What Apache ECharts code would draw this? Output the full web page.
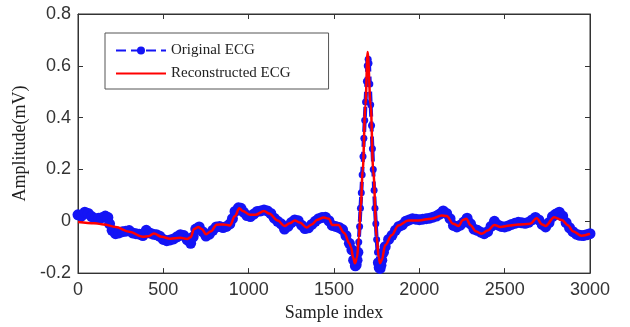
<!DOCTYPE html>
<html>
<head>
<meta charset="utf-8">
<script src="https://cdn.jsdelivr.net/npm/echarts@6/dist/echarts.min.js"></script>
<style>
html,body{margin:0;padding:0;background:#fff;}
#c{width:630px;height:327px;}
</style>
</head>
<body>
<div id="c"></div>
<script>
// Original ECG (sample index, amplitude in mV)
var origSamples = [0,20,40,60,80,100,120,140,160,175,185,200,220,240,260,280,300,320,340,360,380,400,420,440,460,480,500,520,540,560,580,600,620,640,660,675,690,710,730,750,770,790,810,830,850,870,890,905,920,940,955,970,990,1010,1030,1050,1070,1090,1110,1130,1150,1170,1190,1210,1230,1250,1270,1290,1310,1330,1350,1370,1390,1410,1430,1450,1470,1490,1510,1530,1550,1570,1590,1605,1615,1625,1630,1635,1640,1645,1650,1655,1660,1665,1670,1675,1680,1685,1690,1695,1700,1705,1710,1715,1720,1725,1730,1735,1740,1745,1750,1755,1760,1765,1770,1775,1780,1790,1800,1820,1840,1860,1880,1900,1920,1940,1960,1980,2000,2020,2040,2060,2080,2100,2120,2140,2160,2180,2200,2220,2240,2260,2280,2300,2320,2340,2360,2380,2400,2420,2440,2460,2480,2500,2520,2540,2560,2580,2600,2620,2640,2660,2680,2700,2720,2740,2760,2780,2800,2820,2840,2860,2880,2900,2920,2940,2960,2980,3000];
var origValues = [0.025,0.020,0.035,0.030,0.018,0.010,0.012,0.014,0.020,0.015,-0.010,-0.035,-0.048,-0.045,-0.040,-0.038,-0.036,-0.045,-0.048,-0.050,-0.055,-0.035,-0.045,-0.050,-0.052,-0.058,-0.070,-0.075,-0.072,-0.068,-0.060,-0.052,-0.055,-0.072,-0.085,-0.060,-0.030,-0.022,-0.040,-0.057,-0.050,-0.035,-0.022,-0.020,-0.024,-0.020,-0.010,0.010,0.038,0.052,0.050,0.035,0.022,0.018,0.028,0.038,0.040,0.044,0.040,0.030,0.012,0.000,-0.010,-0.030,-0.020,-0.005,0.005,0.002,-0.015,-0.028,-0.025,-0.012,0.000,0.010,0.015,0.016,0.002,-0.016,-0.020,-0.024,-0.032,-0.055,-0.085,-0.110,-0.150,-0.172,-0.168,-0.150,-0.120,-0.080,-0.020,0.050,0.110,0.180,0.250,0.320,0.390,0.460,0.540,0.600,0.625,0.610,0.530,0.450,0.370,0.280,0.200,0.120,0.050,-0.010,-0.070,-0.120,-0.160,-0.178,-0.182,-0.170,-0.150,-0.120,-0.098,-0.070,-0.054,-0.035,-0.020,-0.014,0.000,0.005,0.010,0.008,0.006,0.008,0.010,0.012,0.016,0.020,0.028,0.040,0.030,0.010,-0.016,-0.022,-0.015,-0.003,0.012,-0.010,-0.030,-0.035,-0.042,-0.048,-0.040,-0.020,0.000,-0.014,-0.020,-0.022,-0.018,-0.012,-0.008,-0.004,-0.006,-0.008,-0.004,0.005,0.015,0.005,-0.012,-0.022,-0.005,0.018,0.028,0.035,0.020,-0.005,-0.025,-0.040,-0.050,-0.054,-0.055,-0.052,-0.048];

// Reconstructed ECG
var reconSamples = [0,100,150,220,300,380,410,445,490,540,600,640,660,680,705,725,750,780,812,850,890,920,945,965,1008,1040,1090,1120,1170,1210,1240,1270,1300,1340,1370,1400,1440,1470,1490,1525,1560,1590,1600,1612,1623,1635,1646,1657,1668,1684,1697,1715,1730,1750,1762,1770,1780,1800,1838,1877,1935,1994,2072,2131,2160,2199,2230,2255,2275,2300,2330,2365,2400,2440,2475,2530,2580,2650,2687,2720,2740,2790,2835,2870,2900,2950,3000];
var reconValues = [-0.003,-0.008,-0.012,-0.022,-0.040,-0.060,-0.058,-0.047,-0.060,-0.067,-0.064,-0.068,-0.062,-0.030,-0.022,-0.030,-0.050,-0.038,-0.013,-0.012,-0.016,0.020,0.050,0.040,0.025,0.025,0.040,0.030,0.003,-0.018,-0.008,0.003,-0.005,-0.024,-0.012,0.005,0.015,0.010,-0.014,-0.014,-0.045,-0.085,-0.100,-0.140,-0.162,-0.140,-0.060,0.060,0.194,0.448,0.653,0.448,0.194,-0.060,-0.140,-0.162,-0.150,-0.092,-0.054,-0.016,0.003,0.003,0.010,0.022,0.020,-0.010,-0.018,0.005,0.010,-0.015,-0.038,-0.048,-0.036,-0.014,-0.022,-0.016,-0.012,-0.010,0.012,-0.012,-0.018,0.016,0.005,-0.015,-0.038,-0.056,-0.048];

var xTicks = [0,500,1000,1500,2000,2500,3000];
var yTicks = [-0.2,0,0.2,0.4,0.6,0.8];

function pairs(xs, ys){ return xs.map(function(x,i){ return [x, ys[i]]; }); }

var chart = echarts.init(document.getElementById('c'), null, {renderer:'canvas'});
var sans = 'Liberation Sans, Arial, sans-serif';
var serif = 'Liberation Serif, Times New Roman, serif';
var tickFmtY = function(v){ return String(+v.toFixed(1)); };
var tickFmtX = function(v){ return String(v); };
var blue = '#1414f5';

chart.setOption({
  animation: false,
  backgroundColor: '#ffffff',
  grid: {left: 78, right: 40, top: 14, bottom: 50, show: true, borderColor: '#333', borderWidth: 1, backgroundColor: 'transparent'},
  legend: {
    orient: 'vertical', left: 105, top: 33,
    padding: [10, 38, 8, 10], itemGap: 8,
    itemWidth: 50, itemHeight: 10,
    borderColor: '#555', borderWidth: 1, backgroundColor: '#fff',
    textStyle: {fontFamily: serif, fontSize: 15, color: '#222'},
    data: [
      {name: 'Original ECG'},
      {name: 'Reconstructed ECG', itemStyle: {opacity: 0}}
    ]
  },
  xAxis: [{
    type: 'value', min: xTicks[0], max: xTicks[xTicks.length-1], interval: 500,
    name: 'Sample index', nameLocation: 'middle', nameGap: 29,
    nameTextStyle: {fontFamily: serif, fontSize: 18, color: '#222'},
    axisLine: {show: true, onZero: false, lineStyle: {color: '#333', width: 1}},
    axisTick: {show: true, inside: true, length: 5, lineStyle: {color: '#333'}},
    axisLabel: {fontFamily: sans, fontSize: 18, color: '#333', margin: 8, formatter: tickFmtX},
    splitLine: {show: false}
  },{
    type: 'value', position: 'top', min: xTicks[0], max: xTicks[xTicks.length-1], interval: 500,
    axisLine: {show: true, onZero: false, lineStyle: {color: '#333'}},
    axisTick: {show: true, inside: true, length: 5, lineStyle: {color: '#333'}},
    axisLabel: {show: false}, splitLine: {show: false}
  }],
  yAxis: [{
    type: 'value', min: yTicks[0], max: yTicks[yTicks.length-1], interval: 0.2,
    name: 'Amplitude(mV)', nameLocation: 'middle', nameGap: 48, nameRotate: 90,
    nameTextStyle: {fontFamily: serif, fontSize: 18, color: '#222'},
    axisLine: {show: true, onZero: false, lineStyle: {color: '#333', width: 1}},
    axisTick: {show: true, inside: true, length: 5, lineStyle: {color: '#333'}},
    axisLabel: {fontFamily: sans, fontSize: 18, color: '#333', margin: 7, formatter: tickFmtY},
    splitLine: {show: false}
  },{
    type: 'value', position: 'right', min: yTicks[0], max: yTicks[yTicks.length-1], interval: 0.2,
    axisLine: {show: true, onZero: false, lineStyle: {color: '#333'}},
    axisTick: {show: true, inside: true, length: 5, lineStyle: {color: '#333'}},
    axisLabel: {show: false}, splitLine: {show: false}
  }],
  series: [{
    name: 'Original ECG', type: 'line', xAxisIndex: 0, yAxisIndex: 0,
    data: pairs(origSamples, origValues),
    showSymbol: true, symbol: 'circle',
    symbolSize: function(val){ return (val[0] > 1640 && val[0] < 1760) ? 7 : 11; },
    itemStyle: {color: blue},
    lineStyle: {color: blue, width: 4, type: [10, 5]},
    z: 2
  },{
    name: 'Reconstructed ECG', type: 'line', xAxisIndex: 0, yAxisIndex: 0,
    data: pairs(reconSamples, reconValues),
    showSymbol: false, symbol: 'none', smooth: 0.35, smoothMonotone: 'x',
    itemStyle: {color: '#ff0000'},
    lineStyle: {color: '#ff0000', width: 2.5},
    z: 3
  }]
});
</script>
</body>
</html>
